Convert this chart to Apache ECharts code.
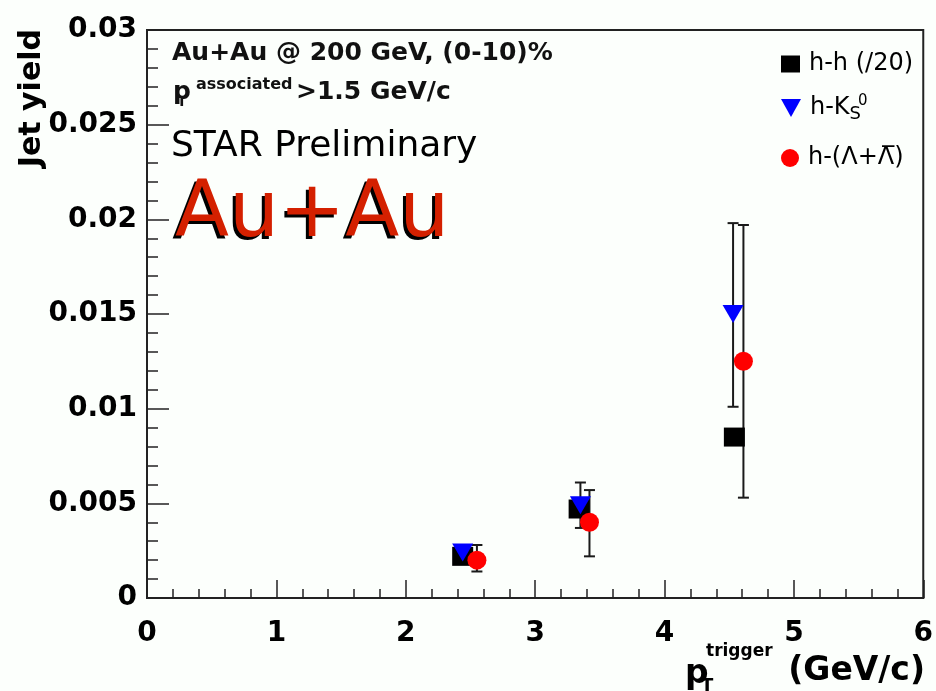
<!DOCTYPE html>
<html>
<head>
<meta charset="utf-8">
<script src="https://cdn.jsdelivr.net/npm/echarts@6/dist/echarts.min.js"></script>
<style>
html,body{margin:0;padding:0;background:#fcfffc;}
#c{width:936px;height:691px;}
</style>
</head>
<body>
<div id="c"></div>
<script>
// ---- data ----
const seriesNames = ['h-h (/20)', 'h-K0S', 'h-(\u039B+\u039B\u0305)'];
const hhX = [2.44, 3.34, 4.54];
const hhY = [0.0022, 0.0047, 0.0085];
const k0X = [2.44, 3.35, 4.53];
const k0Y = [0.0024, 0.0049, 0.0150];
const k0Lo = [0.0021, 0.0037, 0.0101];
const k0Hi = [0.0027, 0.0061, 0.0198];
const laX = [2.55, 3.42, 4.61];
const laY = [0.0020, 0.0040, 0.0125];
const laLo = [0.0014, 0.0022, 0.0053];
const laHi = [0.0028, 0.0057, 0.0197];
const xRange = [0, 6];
const yRange = [0, 0.03];

const pts = (xs, ys) => xs.map((x, i) => [x, ys[i]]);
const errs = (xs, lo, hi) => xs.map((x, i) => [x, lo[i], hi[i]]);

function errRender(params, api) {
  const x = api.value(0), lo = api.value(1), hi = api.value(2);
  const a = api.coord([x, lo]), b = api.coord([x, hi]);
  const c = 5.5;
  const st = {stroke: '#1a1a1a', lineWidth: 2};
  return {type: 'group', children: [
    {type: 'line', shape: {x1: a[0], y1: a[1], x2: b[0], y2: b[1]}, style: st},
    {type: 'line', shape: {x1: a[0] - c, y1: a[1], x2: a[0] + c, y2: a[1]}, style: st},
    {type: 'line', shape: {x1: b[0] - c, y1: b[1], x2: b[0] + c, y2: b[1]}, style: st}
  ]};
}

const F = 'DejaVu Sans';
const triPath = 'path://M0,0L20,0L10,18Z';

const chart = echarts.init(document.getElementById('c'));
chart.setOption({
  backgroundColor: '#fcfffc',
  animation: false,
  grid: {left: 147, right: 11, top: 30, bottom: 93, show: true, borderColor: '#222', borderWidth: 2, backgroundColor: 'transparent'},
  xAxis: {
    type: 'value', min: xRange[0], max: xRange[1], interval: 1,
    axisLine: {show: true, onZero: false, lineStyle: {color: '#222', width: 2}},
    axisTick: {show: true, inside: true, length: 18, lineStyle: {color: '#222', width: 1.5}},
    minorTick: {show: true, splitNumber: 5, length: 9, lineStyle: {color: '#222', width: 1.5}},
    splitLine: {show: false},
    axisLabel: {margin: 22, color: '#000', fontFamily: F, fontWeight: 'bold', fontSize: 28}
  },
  yAxis: {
    type: 'value', min: yRange[0], max: yRange[1], interval: 0.005,
    axisLine: {show: true, onZero: false, lineStyle: {color: '#222', width: 2}},
    axisTick: {show: true, inside: true, length: 22, lineStyle: {color: '#222', width: 1.5}},
    minorTick: {show: true, splitNumber: 5, length: 11, lineStyle: {color: '#222', width: 1.5}},
    splitLine: {show: false},
    axisLabel: {margin: 10, color: '#000', fontFamily: F, fontWeight: 'bold', fontSize: 28,
      formatter: v => String(parseFloat(v.toFixed(4)))}
  },
  legend: [
    {data: [seriesNames[0]], left: 781, top: 52, padding: 0, icon: 'rect', itemWidth: 19, itemHeight: 17,
     textStyle: {fontFamily: F, fontSize: 24, color: '#000', padding: [0, 0, 0, 4]}},
    {data: [seriesNames[1]], left: 781, top: 96, padding: 0, icon: triPath, itemWidth: 20, itemHeight: 18,
     formatter: () => '{b|h-K}{s|S}',
     textStyle: {fontFamily: F, fontSize: 24, color: '#000', padding: [0, 0, 0, 4],
       rich: {b: {fontFamily: F, fontSize: 24, lineHeight: 30, color: '#000'},
              s: {fontFamily: F, fontSize: 18, lineHeight: 30, verticalAlign: 'bottom', color: '#000'}}}},
    {data: [seriesNames[2]], left: 781, top: 146, padding: 0, icon: 'circle', itemWidth: 18, itemHeight: 18,
     textStyle: {fontFamily: F, fontSize: 24, color: '#000', padding: [0, 0, 0, 4]}}
  ],
  series: [
    {type: 'custom', name: 'k0err', renderItem: errRender, data: errs(k0X, k0Lo, k0Hi), encode: {x: 0, y: [1, 2]}, z: 1},
    {type: 'custom', name: 'laerr', renderItem: errRender, data: errs(laX, laLo, laHi), encode: {x: 0, y: [1, 2]}, z: 1},
    {type: 'scatter', name: seriesNames[0], data: pts(hhX, hhY), symbol: 'rect', symbolSize: [21, 19],
     itemStyle: {color: '#000', opacity: 1}, z: 3},
    {type: 'scatter', name: seriesNames[1], data: pts(k0X, k0Y), symbol: triPath, symbolSize: [21, 18],
     itemStyle: {color: '#0000ff', opacity: 1}, z: 4},
    {type: 'scatter', name: seriesNames[2], data: pts(laX, laY), symbol: 'circle', symbolSize: 19,
     itemStyle: {color: '#ff0000', opacity: 1}, z: 5}
  ],
  graphic: [
    // y axis title
    {type: 'text', x: 32, y: 29, rotation: Math.PI / 2,
     style: {text: 'Jet yield', font: 'bold 30px "DejaVu Sans"', fill: '#000', textAlign: 'right', textVerticalAlign: 'middle'}},
    // x axis title
    {type: 'text', x: 685, y: 674, style: {text: 'p', font: 'bold 33px "DejaVu Sans"', fill: '#000', textAlign: 'left', textVerticalAlign: 'middle'}},
    {type: 'text', x: 701, y: 686, style: {text: 'T', font: 'bold 18px "DejaVu Sans"', fill: '#000', textAlign: 'left', textVerticalAlign: 'middle'}},
    {type: 'text', x: 706, y: 652, style: {text: 'trigger', font: 'bold 17px "DejaVu Sans"', fill: '#000', textAlign: 'left', textVerticalAlign: 'middle'}},
    {type: 'text', x: 925, y: 671, style: {text: '(GeV/c)', font: 'bold 33px "DejaVu Sans"', fill: '#000', textAlign: 'right', textVerticalAlign: 'middle'}},
    // annotations
    {type: 'text', x: 172, y: 53, style: {text: 'Au+Au @ 200 GeV, (0-10)%', font: 'bold 25px "DejaVu Sans"', fill: '#111', textAlign: 'left', textVerticalAlign: 'middle'}},
    {type: 'text', x: 173, y: 92, style: {text: 'p', font: 'bold 25px "DejaVu Sans"', fill: '#111', textAlign: 'left', textVerticalAlign: 'middle'}},
    {type: 'text', x: 177, y: 102, style: {text: 'T', font: 'bold 14px "DejaVu Sans"', fill: '#111', textAlign: 'left', textVerticalAlign: 'middle'}},
    {type: 'text', x: 196, y: 85, style: {text: 'associated', font: 'bold 16px "DejaVu Sans"', fill: '#111', textAlign: 'left', textVerticalAlign: 'middle'}},
    {type: 'text', x: 296, y: 92, style: {text: '>1.5 GeV/c', font: 'bold 25px "DejaVu Sans"', fill: '#111', textAlign: 'left', textVerticalAlign: 'middle'}},
    {type: 'text', x: 171, y: 147, style: {text: 'STAR Preliminary', font: '36px "DejaVu Sans"', fill: '#000', textAlign: 'left', textVerticalAlign: 'middle'}},
    {type: 'text', x: 172, y: 218, style: {text: 'Au+Au', font: '79px "DejaVu Sans"', fill: '#000', textAlign: 'left', textVerticalAlign: 'middle'}},
    {type: 'text', x: 175, y: 215, style: {text: 'Au+Au', font: '79px "DejaVu Sans"', fill: '#d42000', textAlign: 'left', textVerticalAlign: 'middle'}},
    // legend superscript
    {type: 'text', x: 858, y: 101, style: {text: '0', font: '15px "DejaVu Sans"', fill: '#000', textAlign: 'left', textVerticalAlign: 'middle'}}
  ]
});
</script>
</body>
</html>
